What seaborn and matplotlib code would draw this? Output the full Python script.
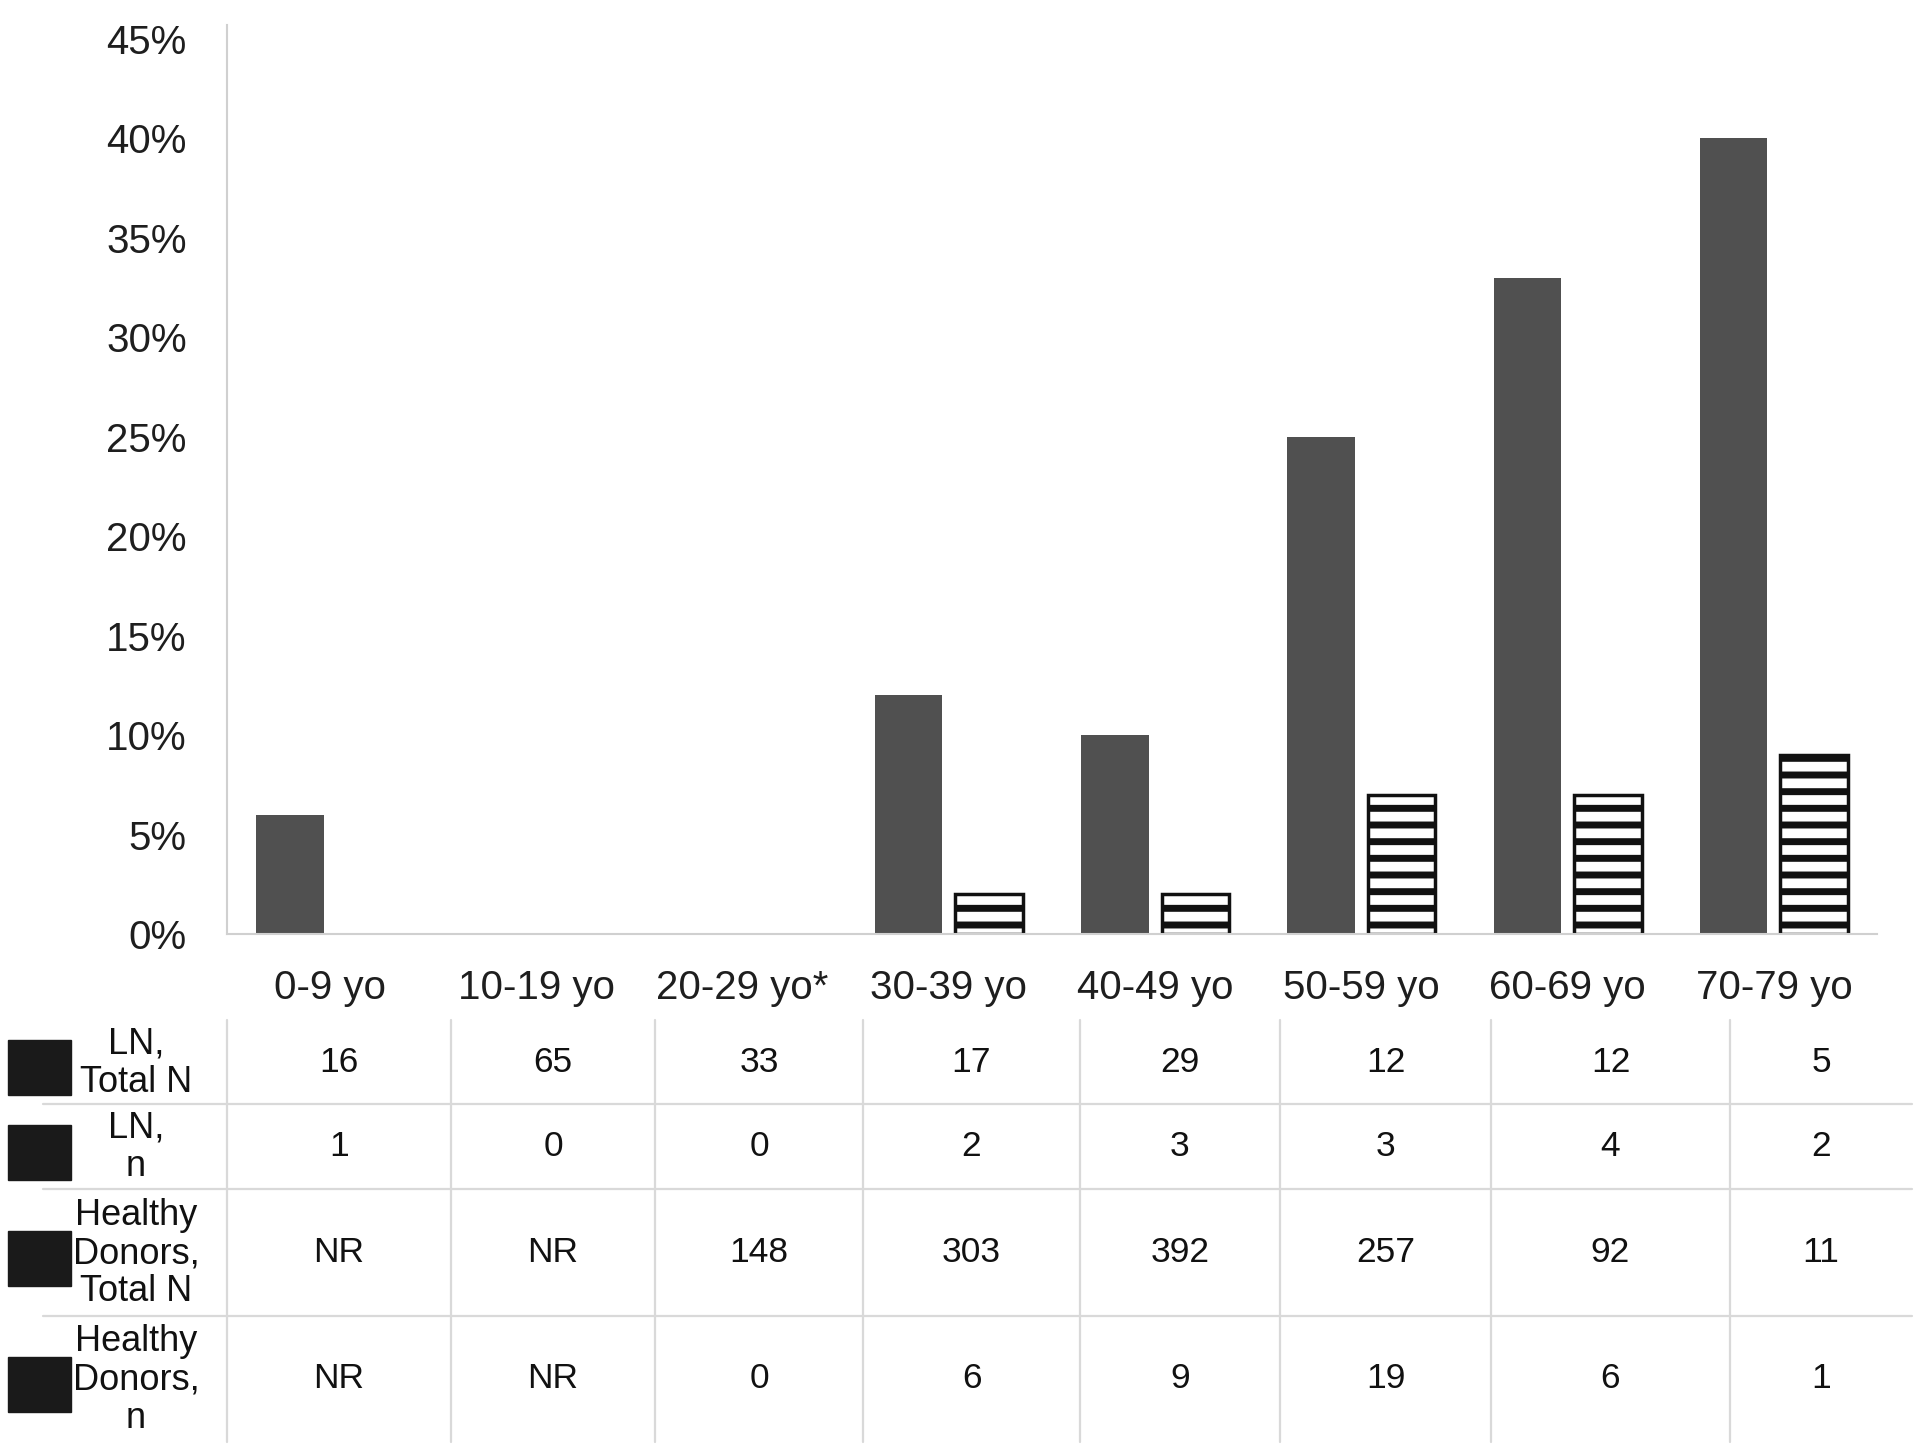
import numpy as np
import pandas as pd
import matplotlib
matplotlib.use('Agg')
import matplotlib.pyplot as plt
import seaborn as sns

# values
ages = ['0-9 yo', '10-19 yo', '20-29 yo*', '30-39 yo', '40-49 yo',
        '50-59 yo', '60-69 yo', '70-79 yo']
ln_pct = [6, 0, 0, 12, 10, 25, 33, 40]
hd_pct = [np.nan, np.nan, 0, 2, 2, 7, 7, 9]

row_labels = ['LN,\nTotal N', 'LN,\nn', 'Healthy\nDonors,\nTotal N', 'Healthy\nDonors,\nn']
ln_total = ['16', '65', '33', '17', '29', '12', '12', '5']
ln_n = ['1', '0', '0', '2', '3', '3', '4', '2']
hd_total = ['NR', 'NR', '148', '303', '392', '257', '92', '11']
hd_n = ['NR', 'NR', '0', '6', '9', '19', '6', '1']
table_rows = [ln_total, ln_n, hd_total, hd_n]

sns.set_style('white')
plt.rcParams['font.family'] = ['Liberation Sans', 'DejaVu Sans']
plt.rcParams['hatch.linewidth'] = 5

df = pd.DataFrame({'age': ages * 2,
                   'group': ['LN'] * 8 + ['HD'] * 8,
                   'pct': ln_pct + hd_pct})

fig = plt.figure(figsize=(19.2, 14.5), dpi=100)
ax = fig.add_axes([227 / 1920, 1 - 934 / 1450, 1650 / 1920, 909 / 1450])

sns.barplot(data=df, x='age', y='pct', hue='group', order=ages,
            hue_order=['LN', 'HD'], palette={'LN': '#505050', 'HD': 'white'},
            width=0.78, gap=0.16, legend=False, ax=ax, errorbar=None)

for bar in ax.containers[0]:
    bar.set_linewidth(0)
for bar in ax.containers[1]:
    if np.isnan(bar.get_height()) or bar.get_height() == 0:
        bar.set_visible(False)
    bar.set_hatch('-')
    bar.set_edgecolor('#111111')
    bar.set_linewidth(2.5)

ax.set_ylim(0, 45.7)
ax.set_yticks(range(0, 50, 5))
ax.set_yticklabels([f'{v}%' for v in range(0, 50, 5)])
ax.set_xlabel('')
ax.set_ylabel('')
ax.tick_params(axis='y', length=0, pad=29, labelsize=29, labelcolor='#1e1e1e')
ax.tick_params(axis='x', length=0, pad=25, labelsize=29, labelcolor='#1e1e1e')
for side in ['top', 'right']:
    ax.spines[side].set_visible(False)
for side in ['left', 'bottom']:
    ax.spines[side].set_color('#d0d0d0')
    ax.spines[side].set_linewidth(1.5)

# data table below the chart, drawn in pixel coordinates
tab = fig.add_axes([0, 0, 1, 1])
tab.set_xlim(0, 1920)
tab.set_ylim(1450, 0)
tab.axis('off')
tab.patch.set_alpha(0)

col_edges = [227, 451, 655, 863, 1080, 1280, 1491, 1730, 1912]
row_edges = [1020, 1104, 1189, 1316, 1442]
grid_c = '#d9d9d9'

for x in col_edges[:-1]:
    tab.plot([x, x], [row_edges[0], row_edges[-1]], color=grid_c, lw=1.6)
for y in row_edges[1:-1]:
    tab.plot([43, col_edges[-1]], [y, y], color=grid_c, lw=1.6)

for i, (label, values) in enumerate(zip(row_labels, table_rows)):
    yc = (row_edges[i] + row_edges[i + 1]) / 2
    tab.add_patch(plt.Rectangle((8, yc - 22), 63, 55, color='#1a1a1a'))
    tab.text(136, yc + 1, label, ha='center', va='center', fontsize=26,
             linespacing=1.12, color='#111111')
    for j, v in enumerate(values):
        xc = (col_edges[j] + col_edges[j + 1]) / 2
        tab.text(xc, yc, v, ha='center', va='center', fontsize=25.5, color='#111111')

fig.savefig('out.png', dpi=100)
